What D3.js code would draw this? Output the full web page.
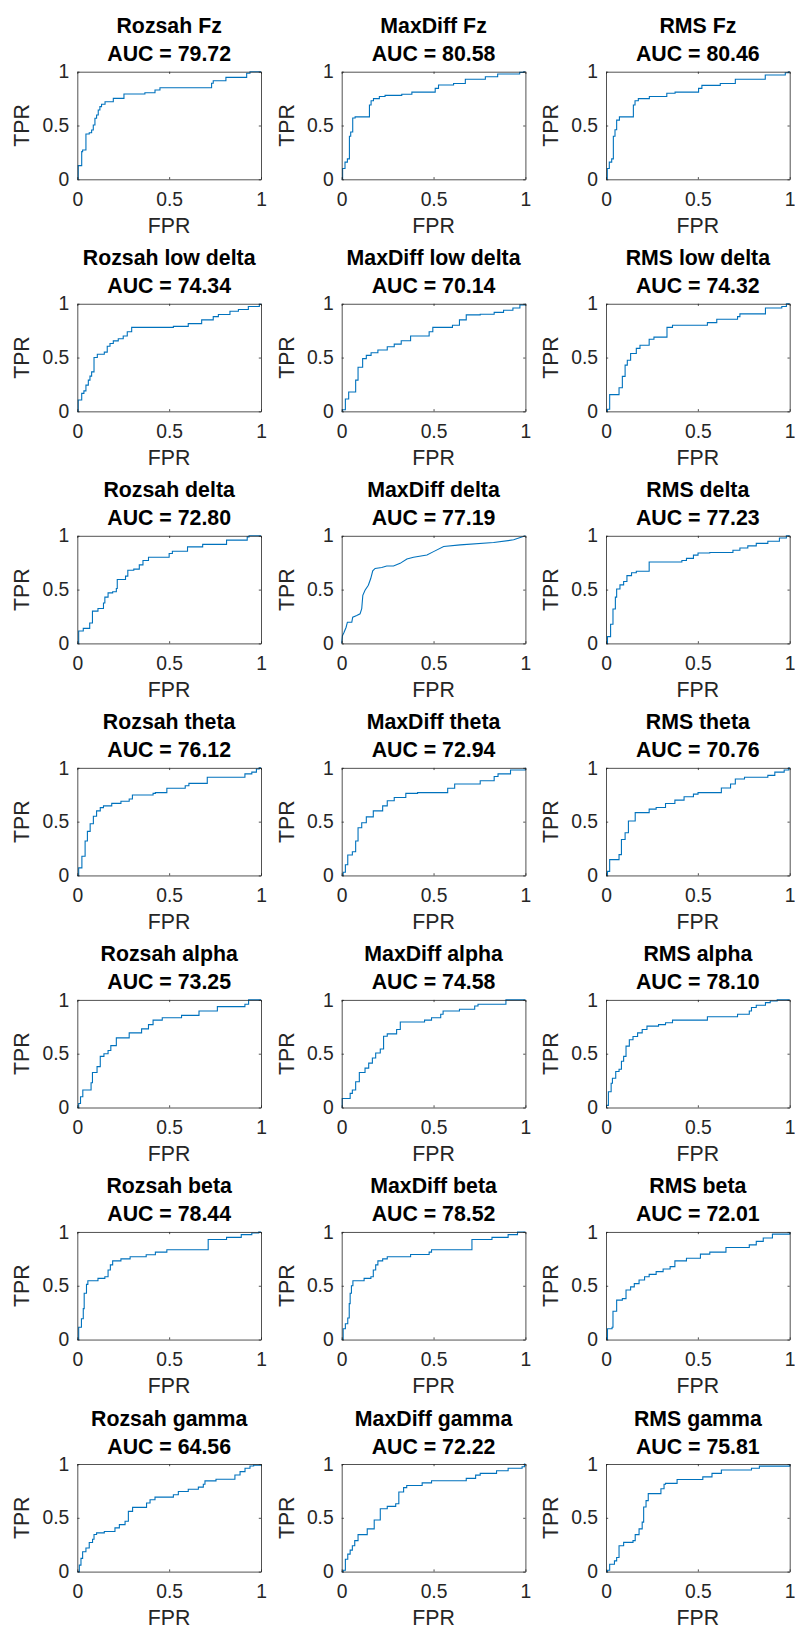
<!DOCTYPE html>
<html>
<head>
<meta charset="utf-8">
<script src="https://cdn.jsdelivr.net/npm/d3@7"></script>
<style>
  html, body { margin: 0; padding: 0; background: #fff; }
  svg { display: block; }
  text { font-family: "Liberation Sans", Arial, Helvetica, sans-serif; }
</style>
</head>
<body>
<script>
// ---------------- data ----------------
const features = ["Rozsah", "MaxDiff", "RMS"];
const bands = ["Fz", "low delta", "delta", "theta", "alpha", "beta", "gamma"];
const aucValues = [
  "79.72", "80.58", "80.46",
  "74.34", "70.14", "74.32",
  "72.80", "77.19", "77.23",
  "76.12", "72.94", "70.76",
  "73.25", "74.58", "78.10",
  "78.44", "78.52", "72.01",
  "64.56", "72.22", "75.81"
];
const tickValues = [0, 0.5, 1];
const tickLabels = ["0", "0.5", "1"];

// ROC points [FPR, TPR]
const rozsahFz = [[0,0],[0.005,0.127],[0.024,0.257],[0.029,0.272],[0.047,0.421],[0.065,0.433],[0.078,0.458],[0.087,0.505],[0.096,0.567],[0.105,0.598],[0.114,0.644],[0.123,0.675],[0.132,0.697],[0.151,0.721],[0.196,0.752],[0.254,0.793],[0.368,0.805],[0.423,0.83],[0.45,0.851],[0.731,0.892],[0.74,0.916],[0.809,0.947],[0.922,0.985],[0.94,1],[1,1]];
const maxdiffFz = [[0,0],[0.005,0.1],[0.018,0.16],[0.031,0.19],[0.042,0.4],[0.049,0.44],[0.06,0.57],[0.073,0.58],[0.151,0.69],[0.16,0.73],[0.173,0.75],[0.205,0.77],[0.236,0.78],[0.327,0.79],[0.382,0.81],[0.509,0.845],[0.527,0.876],[0.609,0.89],[0.673,0.93],[0.782,0.953],[0.849,0.978],[0.969,0.994],[0.991,1],[1,1]];
const rmsFz = [[0,0],[0.007,0.1],[0.018,0.16],[0.031,0.19],[0.04,0.4],[0.049,0.46],[0.058,0.55],[0.073,0.58],[0.149,0.69],[0.158,0.73],[0.176,0.75],[0.236,0.77],[0.331,0.8],[0.376,0.81],[0.504,0.845],[0.522,0.873],[0.622,0.89],[0.704,0.93],[0.867,0.97],[0.976,0.99],[0.995,1],[1,1]];

const rozsahLowDelta = [[0,0],[0.005,0.105],[0.024,0.167],[0.036,0.19],[0.047,0.244],[0.06,0.29],[0.069,0.327],[0.078,0.367],[0.091,0.5],[0.109,0.53],[0.147,0.55],[0.163,0.605],[0.178,0.63],[0.196,0.655],[0.223,0.675],[0.25,0.7],[0.272,0.74],[0.296,0.78],[0.523,0.79],[0.604,0.815],[0.677,0.85],[0.74,0.88],[0.768,0.9],[0.831,0.93],[0.877,0.946],[0.931,0.975],[0.991,0.994],[1,1]];
const maxdiffLowDelta = [[0,0],[0.005,0.015],[0.02,0.115],[0.038,0.18],[0.076,0.29],[0.089,0.41],[0.114,0.49],[0.134,0.52],[0.16,0.545],[0.197,0.57],[0.248,0.6],[0.286,0.625],[0.324,0.656],[0.375,0.7],[0.476,0.74],[0.496,0.78],[0.603,0.8],[0.641,0.85],[0.678,0.897],[0.754,0.903],[0.83,0.92],[0.881,0.94],[0.932,0.96],[0.97,0.99],[1,1]];
const rmsLowDelta = [[0,0],[0.008,0.02],[0.02,0.155],[0.071,0.22],[0.089,0.325],[0.104,0.43],[0.116,0.475],[0.134,0.537],[0.165,0.585],[0.185,0.615],[0.235,0.67],[0.261,0.69],[0.332,0.78],[0.362,0.8],[0.552,0.825],[0.603,0.856],[0.716,0.88],[0.729,0.906],[0.868,0.96],[0.957,0.975],[0.982,1],[1,1]];

const rozsahDelta = [[0,0],[0.0075,0.115],[0.0325,0.14],[0.0675,0.19],[0.0825,0.3],[0.1125,0.325],[0.1425,0.375],[0.15,0.43],[0.1675,0.47],[0.1925,0.48],[0.2125,0.51],[0.2175,0.594],[0.2625,0.625],[0.275,0.68],[0.3075,0.69],[0.3375,0.73],[0.3575,0.77],[0.3875,0.8],[0.5,0.835],[0.5175,0.856],[0.6,0.897],[0.6825,0.92],[0.8125,0.96],[0.925,0.99],[0.935,1],[1,1]];
const maxdiffDelta = [[0,0],[0.004,0.072],[0.013,0.103],[0.024,0.15],[0.031,0.197],[0.055,0.197],[0.06,0.244],[0.082,0.26],[0.1,0.275],[0.109,0.322],[0.115,0.447],[0.127,0.494],[0.145,0.54],[0.158,0.603],[0.169,0.675],[0.182,0.697],[0.218,0.706],[0.245,0.719],[0.282,0.719],[0.318,0.744],[0.355,0.784],[0.391,0.8],[0.464,0.822],[0.5,0.853],[0.555,0.9],[0.645,0.916],[0.827,0.9375],[0.936,0.9625],[1,1]];
const rmsDelta = [[0,0],[0.008,0.0625],[0.025,0.178],[0.038,0.32],[0.051,0.43],[0.058,0.506],[0.076,0.544],[0.096,0.575],[0.114,0.63],[0.139,0.656],[0.165,0.67],[0.235,0.756],[0.413,0.77],[0.438,0.79],[0.476,0.82],[0.501,0.84],[0.565,0.845],[0.691,0.866],[0.729,0.887],[0.772,0.906],[0.818,0.93],[0.881,0.95],[0.944,0.98],[0.982,1],[1,1]];

const rozsahTheta = [[0,0],[0.0075,0.07],[0.025,0.178],[0.0425,0.32],[0.055,0.41],[0.07,0.48],[0.0875,0.55],[0.105,0.6],[0.125,0.63],[0.1425,0.647],[0.1875,0.67],[0.2375,0.69],[0.2825,0.71],[0.3,0.747],[0.4125,0.7625],[0.425,0.77],[0.4875,0.81],[0.5875,0.834],[0.6075,0.856],[0.7075,0.9125],[0.9125,0.944],[0.95,0.96],[0.975,0.99],[0.99,1],[1,1]];
const maxdiffTheta = [[0,0],[0.008,0.03],[0.02,0.1],[0.033,0.19],[0.058,0.22],[0.076,0.32],[0.089,0.444],[0.109,0.49],[0.134,0.544],[0.172,0.6],[0.223,0.647],[0.248,0.694],[0.286,0.725],[0.349,0.7625],[0.413,0.77],[0.577,0.81],[0.615,0.85],[0.754,0.88],[0.83,0.92],[0.851,0.944],[0.919,0.98],[1,1]];
const rmsTheta = [[0,0],[0.008,0.0375],[0.02,0.147],[0.071,0.194],[0.084,0.334],[0.104,0.397],[0.122,0.506],[0.159,0.584],[0.235,0.616],[0.273,0.631],[0.324,0.669],[0.375,0.7],[0.425,0.731],[0.476,0.756],[0.501,0.77],[0.628,0.8125],[0.678,0.85],[0.704,0.897],[0.754,0.9125],[0.881,0.93],[0.919,0.96],[0.97,0.98],[0.995,1],[1,1]];

const rozsahAlpha = [[0,0],[0.0075,0.0375],[0.0175,0.1],[0.03,0.1625],[0.075,0.23],[0.0825,0.325],[0.1075,0.38],[0.125,0.475],[0.145,0.5],[0.1675,0.53],[0.1825,0.575],[0.2125,0.647],[0.2825,0.694],[0.35,0.731],[0.3875,0.77],[0.4125,0.8125],[0.4625,0.834],[0.5675,0.856],[0.6625,0.897],[0.7625,0.9375],[0.9125,0.96],[0.9325,1],[1,1]];
const maxdiffAlpha = [[0,0],[0.003,0.084],[0.046,0.131],[0.058,0.1625],[0.076,0.24],[0.096,0.325],[0.127,0.366],[0.147,0.4125],[0.167,0.46],[0.185,0.506],[0.21,0.544],[0.228,0.6625],[0.248,0.684],[0.299,0.725],[0.319,0.794],[0.451,0.8125],[0.489,0.834],[0.539,0.866],[0.552,0.897],[0.641,0.9125],[0.724,0.944],[0.742,0.96],[0.894,1],[1,1]];
const rmsAlpha = [[0,0],[0.003,0.02],[0.013,0.147],[0.028,0.225],[0.035,0.272],[0.053,0.334],[0.071,0.356],[0.084,0.43],[0.096,0.475],[0.109,0.57],[0.127,0.63],[0.147,0.66],[0.172,0.694],[0.197,0.725],[0.223,0.756],[0.286,0.77],[0.324,0.7875],[0.362,0.8125],[0.552,0.844],[0.716,0.866],[0.78,0.897],[0.792,0.93],[0.818,0.95],[0.868,0.975],[0.894,0.99],[0.932,1],[1,1]];

const rozsahBeta = [[0,0],[0.0075,0.115],[0.0225,0.194],[0.0325,0.2875],[0.0375,0.43],[0.05,0.5125],[0.0575,0.547],[0.1125,0.569],[0.15,0.584],[0.1675,0.647],[0.18,0.694],[0.1925,0.731],[0.2375,0.75],[0.2875,0.77],[0.375,0.7875],[0.425,0.8125],[0.4875,0.834],[0.7125,0.93],[0.8125,0.95],[0.8925,0.975],[0.95,0.99],[0.9875,1],[1,1]];
const maxdiffBeta = [[0,0],[0.008,0.1],[0.02,0.147],[0.033,0.2],[0.041,0.334],[0.046,0.43],[0.053,0.5],[0.061,0.547],[0.122,0.569],[0.159,0.584],[0.172,0.647],[0.185,0.694],[0.197,0.731],[0.223,0.75],[0.248,0.77],[0.375,0.79],[0.476,0.8125],[0.489,0.834],[0.709,0.93],[0.818,0.95],[0.906,0.975],[0.957,1],[1,1]];
const rmsBeta = [[0,0],[0.008,0.1],[0.033,0.115],[0.038,0.2625],[0.058,0.366],[0.089,0.38],[0.109,0.46],[0.134,0.49],[0.154,0.52],[0.18,0.553],[0.21,0.584],[0.235,0.606],[0.273,0.631],[0.311,0.656],[0.349,0.678],[0.375,0.731],[0.438,0.756],[0.514,0.794],[0.565,0.8125],[0.653,0.856],[0.78,0.88],[0.818,0.9125],[0.856,0.944],[0.906,0.98],[1,1]];

const rozsahGamma = [[0,0],[0.011,0.06],[0.02,0.123],[0.029,0.185],[0.047,0.22],[0.065,0.27],[0.083,0.3],[0.091,0.345],[0.105,0.36],[0.147,0.372],[0.205,0.406],[0.229,0.437],[0.26,0.468],[0.278,0.56],[0.301,0.597],[0.377,0.637],[0.396,0.668],[0.423,0.692],[0.523,0.714],[0.55,0.745],[0.604,0.766],[0.659,0.785],[0.686,0.812],[0.695,0.843],[0.755,0.858],[0.858,0.898],[0.886,0.929],[0.913,0.96],[0.94,0.982],[0.96,0.99],[1,1]];
const maxdiffGamma = [[0,0],[0.008,0.0125],[0.02,0.115],[0.033,0.1625],[0.046,0.2],[0.058,0.24],[0.071,0.2875],[0.089,0.344],[0.139,0.397],[0.177,0.48],[0.21,0.584],[0.248,0.606],[0.294,0.631],[0.311,0.74],[0.337,0.78],[0.354,0.8],[0.438,0.825],[0.489,0.844],[0.678,0.866],[0.729,0.897],[0.754,0.9125],[0.843,0.9375],[0.906,0.96],[0.982,0.975],[0.995,1],[1,1]];
const rmsGamma = [[0,0],[0.008,0.0125],[0.02,0.069],[0.046,0.1],[0.058,0.131],[0.071,0.24],[0.096,0.272],[0.147,0.2875],[0.159,0.344],[0.18,0.397],[0.197,0.46],[0.205,0.6],[0.218,0.66],[0.23,0.725],[0.299,0.77],[0.316,0.8125],[0.324,0.82],[0.387,0.856],[0.527,0.88],[0.577,0.9125],[0.628,0.944],[0.792,0.96],[0.835,0.98],[1,1]];

const curves = [
  rozsahFz, maxdiffFz, rmsFz,
  rozsahLowDelta, maxdiffLowDelta, rmsLowDelta,
  rozsahDelta, maxdiffDelta, rmsDelta,
  rozsahTheta, maxdiffTheta, rmsTheta,
  rozsahAlpha, maxdiffAlpha, rmsAlpha,
  rozsahBeta, maxdiffBeta, rmsBeta,
  rozsahGamma, maxdiffGamma, rmsGamma
];
// the MaxDiff delta curve is drawn as a polyline (dense thresholds)
const linearCurves = [7];

// ---------------- layout ----------------
const W = 795, H = 1632;
const colLeft = [77.3, 341.7, 606];
const rowTop0 = 71.7, rowPitch = 232.05;
const axW = 183.7, axH = 107.6;
const axisColor = "#262626";
const lineColor = "#0072BD";

const svg = d3.select("body").append("svg")
  .attr("width", W).attr("height", H)
  .attr("viewBox", `0 0 ${W} ${H}`);
svg.append("rect").attr("width", W).attr("height", H).attr("fill", "#fff");

const x = d3.scaleLinear().domain([0, 1]).range([0, axW]);
const y = d3.scaleLinear().domain([0, 1]).range([axH, 0]);

curves.forEach((data, i) => {
  const r = Math.floor(i / 3), c = i % 3;
  const g = svg.append("g")
    .attr("transform", `translate(${colLeft[c]},${rowTop0 + r * rowPitch})`);

  // curve
  const line = d3.line()
    .x(d => x(d[0])).y(d => y(d[1]))
    .curve(linearCurves.includes(i) ? d3.curveLinear : d3.curveStepAfter);
  g.append("path").datum(data)
    .attr("d", line)
    .attr("fill", "none")
    .attr("stroke", lineColor)
    .attr("stroke-width", 1.1)
    .attr("stroke-linejoin", "miter");

  // axes (ticks inside, mirrored box)
  const tickLen = 2.2;
  const axB = d3.axisBottom(x).tickValues(tickValues).tickFormat((d, k) => tickLabels[k])
    .tickSizeInner(-tickLen).tickSizeOuter(0).tickPadding(13);
  const axL = d3.axisLeft(y).tickValues(tickValues).tickFormat((d, k) => tickLabels[k])
    .tickSizeInner(-tickLen).tickSizeOuter(0).tickPadding(8);
  const axT = d3.axisTop(x).tickValues(tickValues).tickFormat("")
    .tickSizeInner(-tickLen).tickSizeOuter(0);
  const axR = d3.axisRight(y).tickValues(tickValues).tickFormat("")
    .tickSizeInner(-tickLen).tickSizeOuter(0);

  const styleAxis = sel => {
    sel.selectAll("path.domain").attr("stroke", axisColor).attr("stroke-width", 0.8);
    sel.selectAll(".tick line").attr("stroke", axisColor).attr("stroke-width", 0.8);
    sel.selectAll(".tick text")
      .attr("fill", axisColor)
      .style("font-family", '"Liberation Sans", Arial, sans-serif')
      .style("font-size", "19.3px");
  };
  g.append("g").attr("transform", `translate(0,${axH})`).call(axB).call(styleAxis);
  g.append("g").call(axL).call(styleAxis);
  g.append("g").call(axT).call(styleAxis);
  g.append("g").attr("transform", `translate(${axW},0)`).call(axR).call(styleAxis);

  // axis labels
  g.append("text")
    .attr("x", axW / 2).attr("y", axH + 53.5)
    .attr("text-anchor", "middle")
    .attr("fill", axisColor)
    .style("font-size", "21.3px")
    .text("FPR");
  g.append("text")
    .attr("transform", `translate(-48,${axH / 2}) rotate(-90)`)
    .attr("text-anchor", "middle")
    .attr("fill", axisColor)
    .style("font-size", "21.3px")
    .text("TPR");

  // title
  const t = g.append("text")
    .attr("text-anchor", "middle")
    .attr("fill", "#000")
    .style("font-size", "21.3px")
    .style("font-weight", "bold");
  t.append("tspan").attr("x", axW / 2).attr("y", -38.5).text(`${features[c]} ${bands[r]}`);
  t.append("tspan").attr("x", axW / 2).attr("y", -10.5).text(`AUC = ${aucValues[i]}`);
});
</script>
</body>
</html>
